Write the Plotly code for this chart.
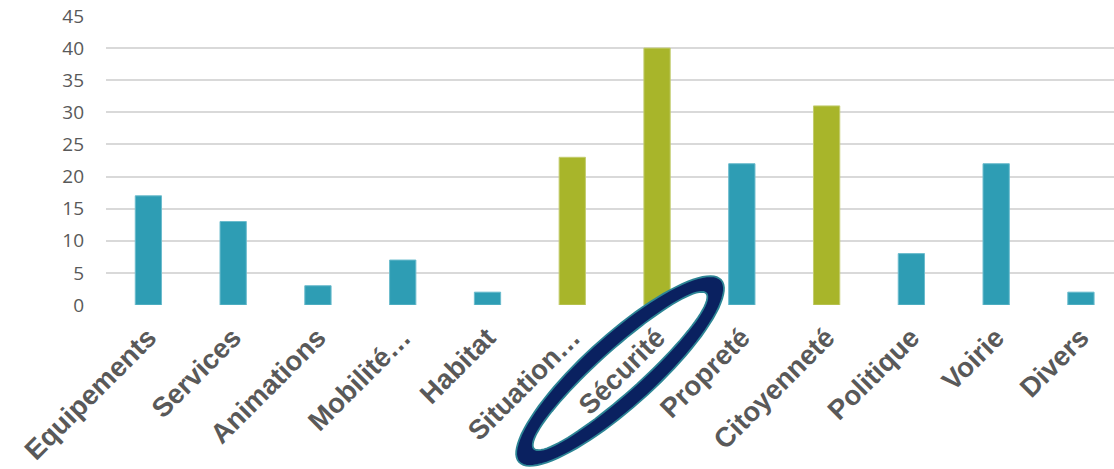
import numpy as np
import plotly.graph_objects as go

categories = ["Equipements", "Services", "Animations", "Mobilité…", "Habitat",
              "Situation…", "Sécurité", "Propreté", "Citoyenneté", "Politique",
              "Voirie", "Divers"]
values = [17, 13, 3, 7, 2, 23, 40, 22, 31, 8, 22, 2]
highlighted = ["Situation…", "Sécurité", "Citoyenneté"]
y_ticks = [0, 5, 10, 15, 20, 25, 30, 35, 40, 45]

TEAL = "#2E9DB4"
GREEN = "#A8B52A"
colors = [GREEN if c in highlighted else TEAL for c in categories]
line_colors = ["#C3CC6E" if c in highlighted else "#6CBCCD" for c in categories]

x_range = [-0.5, 11.39]

fig = go.Figure(go.Bar(
    x=categories, y=values,
    marker=dict(color=colors, line=dict(color=line_colors, width=1)),
    width=0.31,
))

# rotated ring (ellipse) around the "Sécurité" label, in pixel units
def ellipse_pts(a, b, ang_deg, cx, cy, n=90):
    t = np.linspace(0, 2 * np.pi, n, endpoint=False)
    th = np.deg2rad(ang_deg)
    x = a * np.cos(t)
    y = b * np.sin(t)
    xr = cx + x * np.cos(th) - y * np.sin(th)
    yr = cy + x * np.sin(th) + y * np.cos(th)
    return xr, yr

def sub_path(xs, ys):
    s = "M %.1f,%.1f " % (xs[0], ys[0])
    s += " ".join("L %.1f,%.1f" % (a, b) for a, b in zip(xs[1:], ys[1:]))
    return s + " Z"

cx, cy = -37, -66
ox, oy = ellipse_pts(136, 36, 42, cx, cy)
ix, iy = ellipse_pts(116, 21, 42, cx, cy)
ring_path = sub_path(ox, oy) + " " + sub_path(ix[::-1], iy[::-1])

anchor_x = (categories.index("Sécurité") - x_range[0]) / (x_range[1] - x_range[0])

fig.add_shape(
    type="path", path=ring_path,
    xref="paper", yref="paper", xsizemode="pixel", ysizemode="pixel",
    xanchor=anchor_x, yanchor=0,
    fillcolor="#0A2160", line=dict(color="#2D8595", width=1.8),
    layer="above",
)

fig.update_layout(
    width=1114, height=469,
    margin=dict(l=106, r=0, t=16, b=164),
    paper_bgcolor="white", plot_bgcolor="white",
    showlegend=False,
    bargap=0.6,
    xaxis=dict(
        range=x_range,
        tickangle=-45,
        tickfont=dict(family="Liberation Sans, Arial, sans-serif", size=27.5,
                      color="#595959", weight="bold"),
        showgrid=False, zeroline=False, showline=False, ticks="",
        ticklabelstandoff=10, automargin=False,
    ),
    yaxis=dict(
        range=[0, 45],
        tickvals=y_ticks,
        tickfont=dict(family="Open Sans, Liberation Sans, sans-serif", size=19, color="#595959"),
        showgrid=True, gridcolor="#D9D9D9", gridwidth=1.5,
        zeroline=False, showline=False, ticks="",
        ticklabelstandoff=21, automargin=False,
        ticklabeloverflow="allow",
    ),
)

fig.write_html(
    "out.html",
    config={"displayModeBar": False},
    post_script="document.body.style.margin='0';document.body.style.overflow='hidden';",
)
